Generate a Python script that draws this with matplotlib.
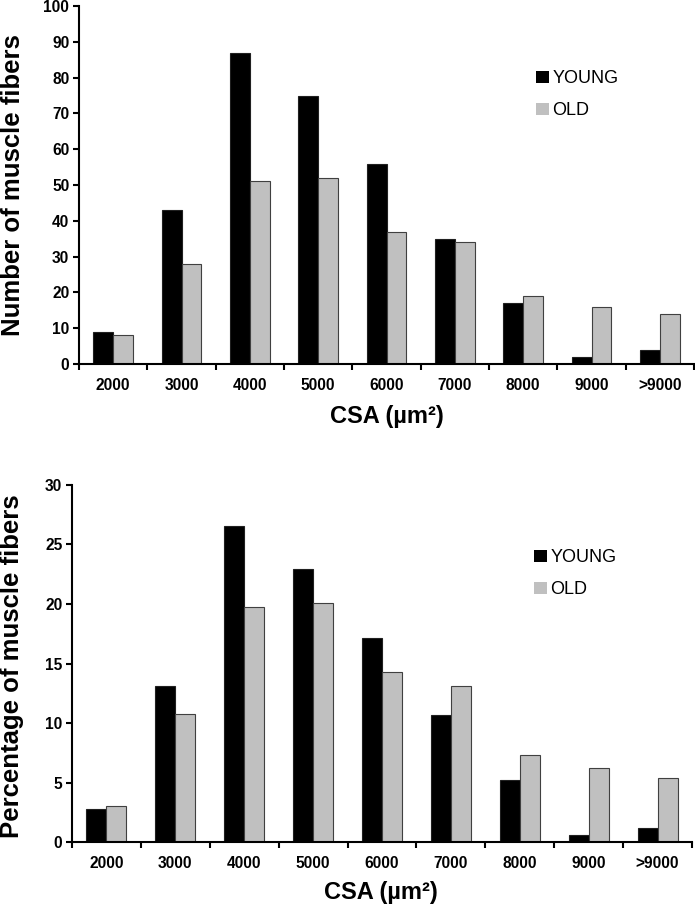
import matplotlib
matplotlib.use("Agg")
import matplotlib.pyplot as plt
import numpy as np

categories = ["2000", "3000", "4000", "5000", "6000", "7000", "8000", "9000", ">9000"]
young_count = [9, 43, 87, 75, 56, 35, 17, 2, 4]
old_count = [8, 28, 51, 52, 37, 34, 19, 16, 14]
young_pct = [2.77, 13.1, 26.5, 22.9, 17.1, 10.7, 5.2, 0.6, 1.2]
old_pct = [3.08, 10.8, 19.7, 20.05, 14.3, 13.1, 7.35, 6.2, 5.4]
top_yticks = list(range(0, 101, 10))
bottom_yticks = list(range(0, 31, 5))

plt.rcParams['font.family'] = ['Liberation Sans', 'DejaVu Sans']

W, H = 695, 909
fig = plt.figure(figsize=(W/100, H/100), dpi=100)
ax1 = fig.add_axes([79/W, 1-364/H, (694-79)/W, (364-6)/H])
ax2 = fig.add_axes([72/W, 1-842.3/H, (692-72)/W, (842.3-484.7)/H])

def draw(ax, young, old, yticks, ylabel, ylab_xy, xlab_xy, leg_xy):
    n = len(categories)
    x = np.arange(n) + 0.5
    w = 0.29
    b1 = ax.bar(x - w/2, young, width=w, color="black", edgecolor="#202020", linewidth=0.8, label="YOUNG")
    b2 = ax.bar(x + w/2, old, width=w, color="#c0c0c0", edgecolor="#404040", linewidth=0.8, label="OLD")
    ax.set_xlim(0, n)
    ax.set_ylim(yticks[0], yticks[-1])
    ax.set_yticks(yticks)
    ax.set_yticklabels([str(t) for t in yticks], fontweight="bold", fontsize=11.2)
    ax.set_xticks(np.arange(n + 1))
    ax.set_xticklabels([])
    ax.set_xticks(x, minor=True)
    ax.set_xticklabels(categories, minor=True, fontweight="bold", fontsize=11.2)
    ax.tick_params(axis="x", which="major", direction="out", length=4, width=1.5)
    ax.tick_params(axis="x", which="minor", length=0, pad=10)
    ax.tick_params(axis="y", direction="out", length=4, width=1.5, pad=3)
    for s in ["top", "right"]:
        ax.spines[s].set_visible(False)
    for s in ["left", "bottom"]:
        ax.spines[s].set_linewidth(1.5)
    fig.text(ylab_xy[0]/W, 1-ylab_xy[1]/H, ylabel, rotation=90, ha="center", va="center",
             fontsize=18.5, fontweight="bold")
    fig.text(xlab_xy[0]/W, 1-xlab_xy[1]/H, "CSA (µm²)", ha="center", va="center",
             fontsize=17, fontweight="bold")
    leg = ax.legend(handles=[b1, b2], loc="upper left", bbox_to_anchor=(leg_xy[0]/W, 1-leg_xy[1]/H),
                    bbox_transform=fig.transFigure, borderaxespad=0, borderpad=0,
                    frameon=False, fontsize=13, handlelength=0.7, handleheight=0.67,
                    handletextpad=0.22, labelspacing=0.85)
    for p in leg.get_patches():
        p.set_edgecolor("none")

draw(ax1, young_count, old_count, top_yticks, "Number of muscle fibers", (13, 185), (387, 417), (536, 70))
draw(ax2, young_pct, old_pct, bottom_yticks, "Percentage of muscle fibers", (12, 666), (381, 893), (534, 549))

fig.savefig("out.png", dpi=100)
